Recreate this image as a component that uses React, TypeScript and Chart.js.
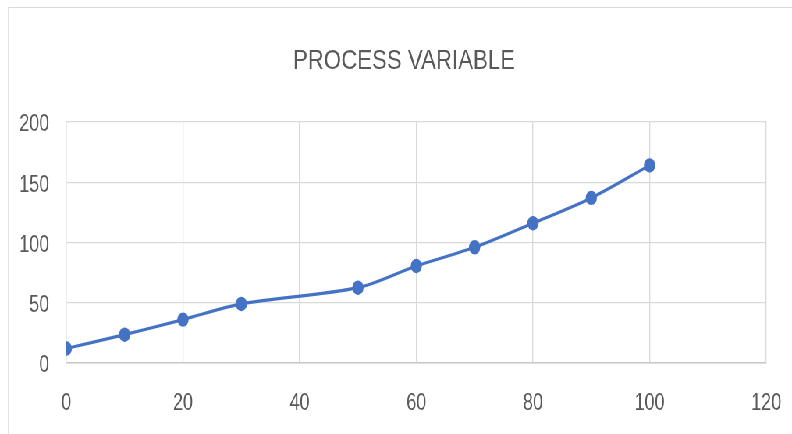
import React, { useEffect, useRef } from "react";
import { Chart, registerables } from "chart.js";

Chart.register(...registerables);

// Process variable readings
const inputValues = [0, 10, 20, 30, 50, 60, 70, 80, 90, 100];
const processValues = [12, 23.5, 36, 49, 62.5, 80.5, 96, 116, 137, 164];

const chartTitle = "PROCESS VARIABLE";
const xRange = { min: 0, max: 120, step: 20 };
const yRange = { min: 0, max: 200, step: 50 };

// The chart is drawn on a wider canvas and squeezed horizontally to the page width.
const CANVAS_W = 1015;
const CANVAS_H = 434;
const SQUEEZE = 792 / CANVAS_W;

const FONT = "'Liberation Sans', Arial, sans-serif";
const TEXT = "#595959";
const GRID = "#d9d9d9";
const SERIES = "#4472C4";

// White background, light frame around the chart object and the title
const framePlugin = {
  id: "frame",
  beforeDraw(chart: any) {
    const { ctx, width, height } = chart;
    ctx.save();
    ctx.fillStyle = "#ffffff";
    ctx.fillRect(0, 0, width, height);
    ctx.strokeStyle = GRID;
    ctx.lineWidth = 1.2;
    const left = 8.5 / SQUEEZE;
    ctx.beginPath();
    ctx.moveTo(width + 5, 7.5);
    ctx.lineTo(left, 7.5);
    ctx.lineTo(left, height + 5);
    ctx.stroke();

    ctx.fillStyle = TEXT;
    ctx.font = `normal 28.5px ${FONT}`;
    ctx.textAlign = "center";
    ctx.textBaseline = "alphabetic";
    ctx.fillText(chartTitle, 404 / SQUEEZE, 68.5);
    ctx.restore();
  },
};

export default function App() {
  const canvasRef = useRef<HTMLCanvasElement | null>(null);

  useEffect(() => {
    if (!canvasRef.current) return;
    const points = inputValues.map((x, i) => ({ x, y: processValues[i] }));
    const chart = new Chart(canvasRef.current, {
      type: "line",
      data: {
        datasets: [
          {
            data: points,
            borderColor: SERIES,
            backgroundColor: SERIES,
            borderWidth: 3.2,
            pointRadius: 7.2,
            pointBorderWidth: 0,
            pointBackgroundColor: SERIES,
            tension: 0.3,
            fill: false,
          },
        ],
      },
      plugins: [framePlugin],
      options: {
        responsive: false,
        animation: false,
        devicePixelRatio: 1,
        layout: { padding: { left: 0, right: 33, top: 122, bottom: 0 } },
        plugins: {
          legend: { display: false },
          tooltip: { enabled: false },
          title: { display: false },
        },
        scales: {
          x: {
            type: "linear",
            min: xRange.min,
            max: xRange.max,
            afterFit: (scale: any) => {
              scale.height = 71;
              scale.paddingLeft = 0;
              scale.paddingRight = 0;
            },
            ticks: {
              stepSize: xRange.step,
              color: TEXT,
              font: { family: FONT, size: 23 },
              padding: 27,
              maxRotation: 0,
            },
            grid: { color: GRID, lineWidth: 1.3, drawTicks: false },
            border: { color: "#c8c8c8", width: 1.5 },
          },
          y: {
            min: yRange.min,
            max: yRange.max,
            afterFit: (scale: any) => {
              scale.width = 85;
            },
            ticks: {
              stepSize: yRange.step,
              color: TEXT,
              font: { family: FONT, size: 23 },
              padding: 22,
              labelOffset: 3,
            },
            grid: { color: GRID, lineWidth: 1.3, drawTicks: false },
            border: { color: GRID, width: 1.3 },
          },
        },
      },
    });
    return () => chart.destroy();
  }, []);

  return (
    <div
      style={{
        position: "absolute",
        left: 0,
        top: 0,
        width: CANVAS_W,
        height: CANVAS_H,
        transform: `scaleX(${SQUEEZE})`,
        transformOrigin: "0 0",
        background: "#ffffff",
      }}
    >
      <canvas
        ref={canvasRef}
        width={CANVAS_W}
        height={CANVAS_H}
        style={{ display: "block", width: CANVAS_W, height: CANVAS_H }}
      />
    </div>
  );
}
